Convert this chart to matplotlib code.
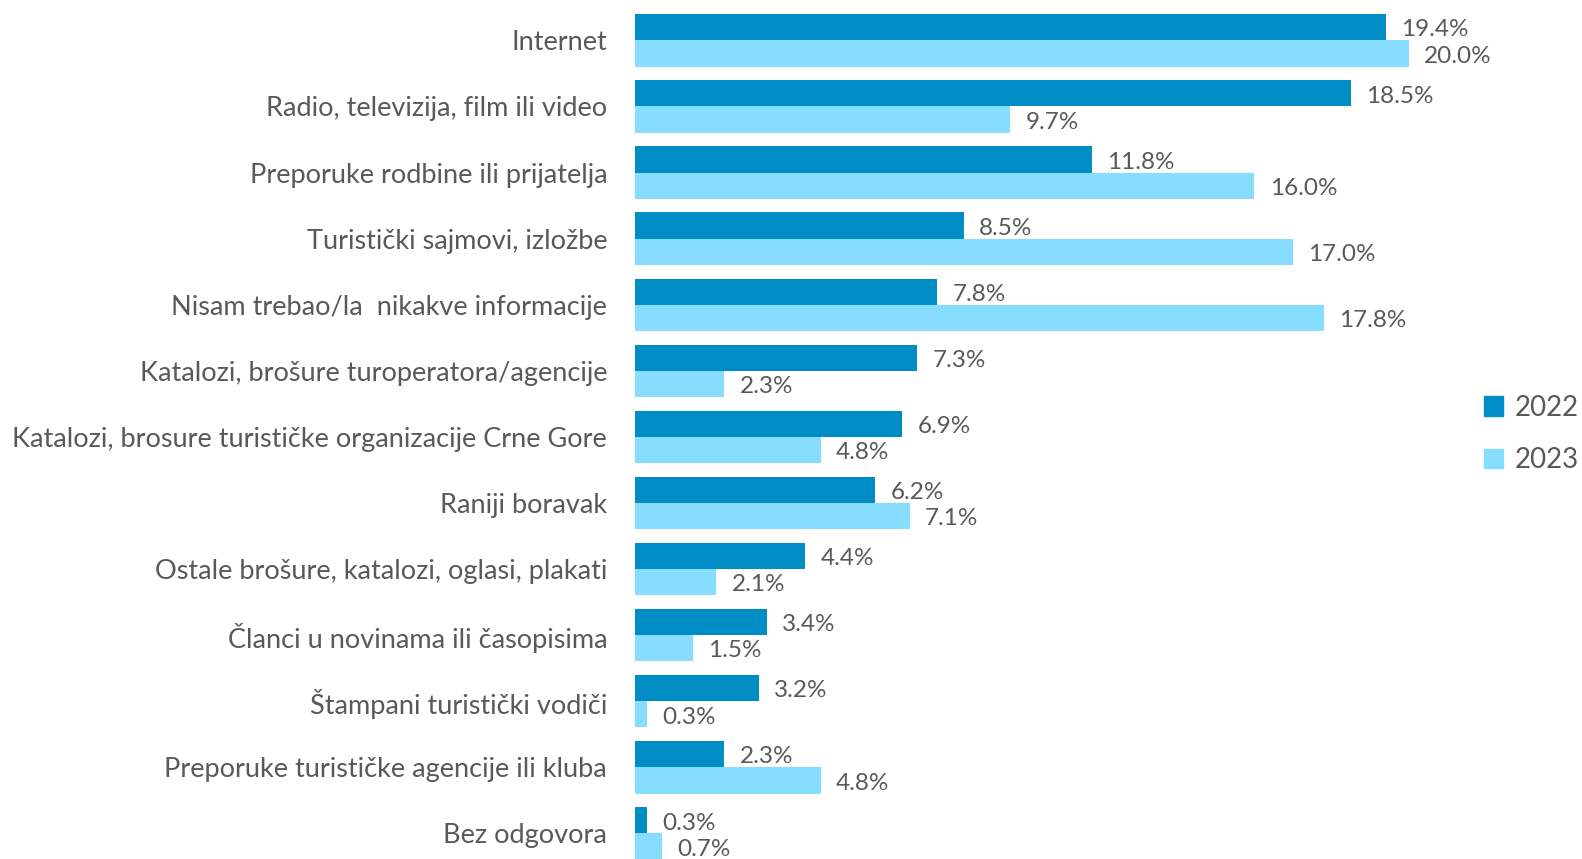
import matplotlib.pyplot as plt
import numpy as np
from matplotlib.patches import Patch

categories = [
    'Internet',
    'Radio, televizija, film ili video',
    'Preporuke rodbine ili prijatelja',
    'Turistički sajmovi, izložbe',
    'Nisam trebao/la  nikakve informacije',
    'Katalozi, brošure turoperatora/agencije',
    'Katalozi, brosure turističke organizacije Crne Gore',
    'Raniji boravak',
    'Ostale brošure, katalozi, oglasi, plakati',
    'Članci u novinama ili časopisima',
    'Štampani turistički vodiči',
    'Preporuke turističke agencije ili kluba',
    'Bez odgovora',
]
vals_2022 = [19.4, 18.5, 11.8, 8.5, 7.8, 7.3, 6.9, 6.2, 4.4, 3.4, 3.2, 2.3, 0.3]
vals_2023 = [20.0, 9.7, 16.0, 17.0, 17.8, 2.3, 4.8, 7.1, 2.1, 1.5, 0.3, 4.8, 0.7]
series_names = ['2022', '2023']

c_dark = '#008dc6'
c_light = '#87ddff'
txt = '#595959'

plt.rcParams['font.family'] = ['Lato', 'DejaVu Sans']

W, H = 1582, 859
fig = plt.figure(figsize=(W / 100, H / 100), dpi=100)
ax = fig.add_axes([635 / W, 0, 0.587, 1])

y = np.arange(len(categories))
h = 0.396
b1 = ax.barh(y - h / 2, vals_2022, height=h, color=c_dark)
b2 = ax.barh(y + h / 2, vals_2023, height=h, color=c_light)

# value labels just past the end of each bar
for bars, vals in ((b1, vals_2022), (b2, vals_2023)):
    for bar, v in zip(bars, vals):
        ax.text(v + 0.4, bar.get_y() + bar.get_height() / 2 + 0.04, f'{v:.1f}%',
                va='center', ha='left', fontsize=17.5, color=txt)

ax.set_xlim(0, 24)
ax.set_ylim(12.386, -0.611)
ax.set_yticks(y)
ax.set_yticklabels(categories, fontsize=19.5, color=txt)
ax.tick_params(axis='y', length=0, pad=20)
ax.set_xticks([])
for s in ax.spines.values():
    s.set_visible(False)

handles = [Patch(color=c_dark), Patch(color=c_light)]
fig.legend(handles, series_names, loc='center left', bbox_to_anchor=(1484 / W, 1 - 434 / H),
           frameon=False, fontsize=20, labelcolor=txt, handlelength=0.7, handleheight=0.7,
           handletextpad=0.4, labelspacing=0.95, borderpad=0, borderaxespad=0)

fig.savefig('out.png', dpi=100)
